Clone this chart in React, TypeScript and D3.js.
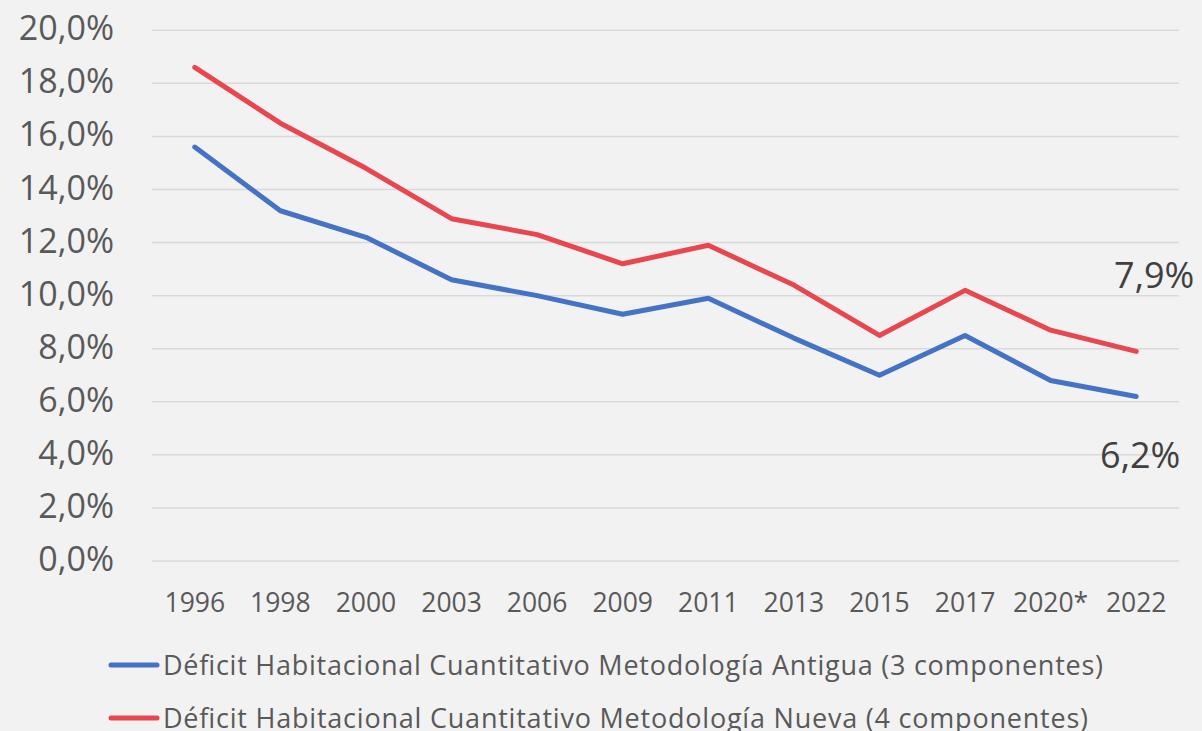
import React, { useEffect, useRef } from 'react';
import * as d3 from 'd3';

// datos
const years = ['1996', '1998', '2000', '2003', '2006', '2009', '2011', '2013', '2015', '2017', '2020*', '2022'];
const antigua = [15.6, 13.2, 12.2, 10.6, 10.0, 9.3, 9.9, 8.4, 7.0, 8.5, 6.8, 6.2];
const nueva = [18.6, 16.5, 14.8, 12.9, 12.3, 11.2, 11.9, 10.4, 8.5, 10.2, 8.7, 7.9];
const yTicks = [0, 2, 4, 6, 8, 10, 12, 14, 16, 18, 20];
const seriesNames = [
  'Déficit Habitacional Cuantitativo Metodología Antigua (3 componentes)',
  'Déficit Habitacional Cuantitativo Metodología Nueva (4 componentes)',
];
const seriesColors = ['#4472C4', '#E8474F'];

const fmt = (v: number) => v.toFixed(1).replace('.', ',') + '%';

const App: React.FC = () => {
  const svgRef = useRef<SVGSVGElement>(null);

  useEffect(() => {
    const width = 1202;
    const height = 731;
    const font = '"Open Sans", sans-serif';

    const svg = d3.select(svgRef.current).attr('width', width).attr('height', height);
    svg.selectAll('*').remove();

    svg.append('rect').attr('width', width).attr('height', height).attr('fill', '#f2f2f2');

    const x = d3.scalePoint<string>().domain(years).range([152, 1179]).padding(0.5);
    const y = d3.scaleLinear().domain([0, 20]).range([561, 30.3]);

    // líneas de cuadrícula
    svg.append('g')
      .selectAll('line')
      .data(yTicks)
      .enter().append('line')
      .attr('x1', 152)
      .attr('x2', 1179)
      .attr('y1', (d) => y(d))
      .attr('y2', (d) => y(d))
      .attr('stroke', '#d9d9d9')
      .attr('stroke-width', 1.5);

    // etiquetas eje Y
    svg.append('g')
      .selectAll('text')
      .data(yTicks)
      .enter().append('text')
      .attr('x', 114)
      .attr('y', (d) => y(d) + 10)
      .attr('text-anchor', 'end')
      .attr('font-family', font)
      .attr('font-size', 34)
      .attr('fill', '#595959')
      .text((d) => fmt(d));

    // etiquetas eje X
    svg.append('g')
      .selectAll('text')
      .data(years)
      .enter().append('text')
      .attr('x', (d) => x(d)!)
      .attr('y', 612)
      .attr('text-anchor', 'middle')
      .attr('font-family', font)
      .attr('font-size', 26.5)
      .attr('fill', '#595959')
      .text((d) => d);

    const line = d3.line<number>()
      .x((_, i) => x(years[i])!)
      .y((d) => y(d));

    [antigua, nueva].forEach((s, i) => {
      svg.append('path')
        .datum(s)
        .attr('d', line)
        .attr('fill', 'none')
        .attr('stroke', seriesColors[i])
        .attr('stroke-width', 5)
        .attr('stroke-linejoin', 'round')
        .attr('stroke-linecap', 'round');
    });

    // etiquetas del último valor
    const last = years.length - 1;
    svg.append('text')
      .attr('x', x(years[last])! + 18)
      .attr('y', y(nueva[last]) - 63)
      .attr('text-anchor', 'middle')
      .attr('font-family', font)
      .attr('font-size', 36)
      .attr('fill', '#404040')
      .text(fmt(nueva[last]));
    svg.append('text')
      .attr('x', x(years[last])! + 4)
      .attr('y', y(antigua[last]) + 72)
      .attr('text-anchor', 'middle')
      .attr('font-family', font)
      .attr('font-size', 36)
      .attr('fill', '#404040')
      .text(fmt(antigua[last]));

    // leyenda
    const legendY = [665, 718];
    const legendW = [940, 925];
    seriesNames.forEach((name, i) => {
      svg.append('line')
        .attr('x1', 111)
        .attr('x2', 157)
        .attr('y1', legendY[i])
        .attr('y2', legendY[i])
        .attr('stroke', seriesColors[i])
        .attr('stroke-width', 5)
        .attr('stroke-linecap', 'round');
      svg.append('text')
        .attr('x', 163)
        .attr('y', legendY[i] + 10)
        .attr('font-family', font)
        .attr('font-size', 27)
        .attr('fill', '#595959')
        .attr('textLength', legendW[i])
        .attr('lengthAdjust', 'spacing')
        .text(name);
    });
  }, []);

  return <svg ref={svgRef} style={{ position: 'absolute', left: 0, top: 0, display: 'block' }}></svg>;
};

export default App;
